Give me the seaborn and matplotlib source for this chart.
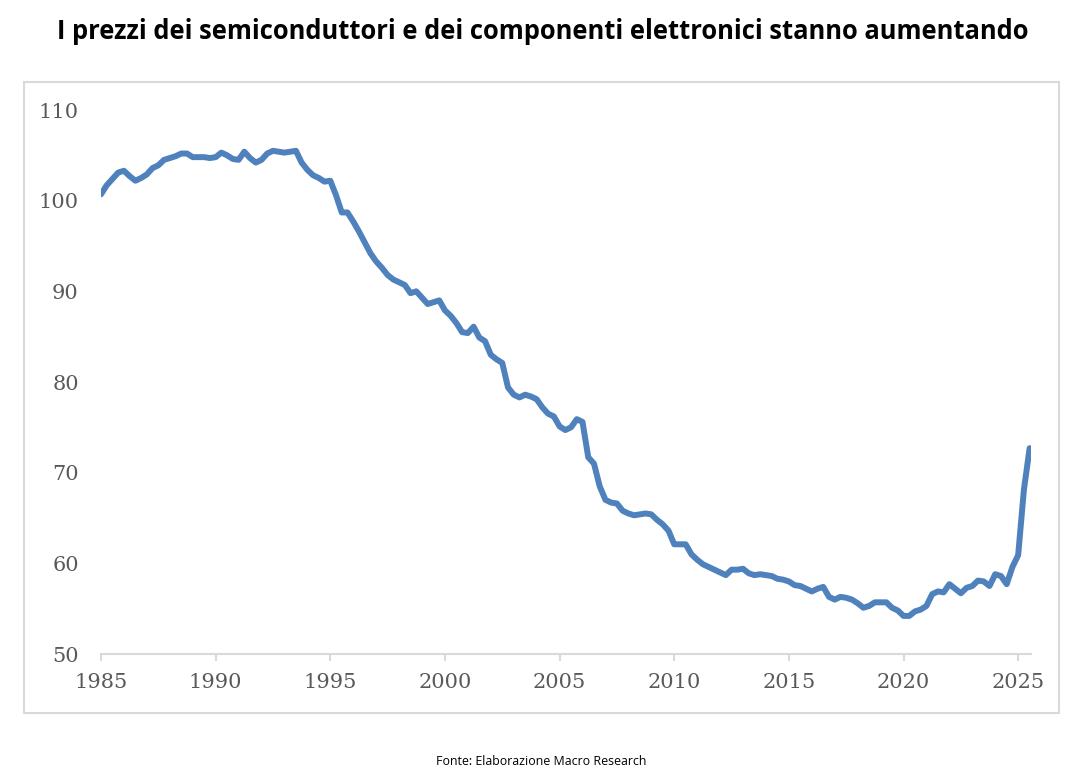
import numpy as np
import pandas as pd
import seaborn as sns
import matplotlib.pyplot as plt
from matplotlib.patches import Rectangle

# quarterly index values, 1985Q1 .. 2025Q3
valori = [
    100.7, 101.7, 102.4, 103.1, 103.3, 102.7, 102.2, 102.5, 102.9, 103.6,
    103.9, 104.5, 104.7, 104.9, 105.2, 105.2, 104.8, 104.8, 104.8, 104.7,
    104.8, 105.3, 105.0, 104.6, 104.5, 105.4, 104.7, 104.2, 104.5, 105.2,
    105.5, 105.4, 105.3, 105.4, 105.5, 104.2, 103.4, 102.8, 102.5, 102.1,
    102.2, 100.6, 98.7, 98.7, 97.7, 96.6, 95.4, 94.2, 93.3, 92.6,
    91.8, 91.3, 91.0, 90.7, 89.8, 90.0, 89.3, 88.6, 88.8, 89.0,
    87.9, 87.3, 86.5, 85.5, 85.4, 86.1, 84.9, 84.5, 83.0, 82.5,
    82.1, 79.4, 78.6, 78.3, 78.6, 78.4, 78.1, 77.2, 76.5, 76.2,
    75.1, 74.7, 75.0, 75.9, 75.6, 71.7, 71.0, 68.5, 67.0, 66.7,
    66.6, 65.8, 65.5, 65.3, 65.4, 65.5, 65.4, 64.8, 64.3, 63.6,
    62.1, 62.1, 62.1, 61.0, 60.4, 59.9, 59.6, 59.3, 59.0, 58.7,
    59.3, 59.3, 59.4, 58.9, 58.7, 58.8, 58.7, 58.6, 58.3, 58.2,
    58.0, 57.6, 57.5, 57.2, 56.9, 57.2, 57.4, 56.3, 56.0, 56.3,
    56.2, 56.0, 55.6, 55.1, 55.3, 55.7, 55.7, 55.7, 55.1, 54.8,
    54.2, 54.2, 54.7, 54.9, 55.3, 56.6, 56.9, 56.8, 57.7, 57.2,
    56.7, 57.3, 57.5, 58.1, 58.0, 57.5, 58.8, 58.6, 57.7, 59.6,
    60.9, 68.1, 72.7,
]
anni = [1985 + i / 4 for i in range(len(valori))]
tick_anni = [1985, 1990, 1995, 2000, 2005, 2010, 2015, 2020, 2025]
tick_y = [50, 60, 70, 80, 90, 100, 110]

titolo = "I prezzi dei semiconduttori e dei componenti elettronici stanno aumentando"
fonte = "Fonte: Elaborazione Macro Research"

df = pd.DataFrame({"anno": anni, "indice": valori})

sns.set_style("white")
plt.rcParams['font.family'] = ['DejaVu Serif']

fig = plt.figure(figsize=(10.86, 7.78), dpi=100)
ax = fig.add_axes([101 / 1086, 1 - 654 / 778, 930 / 1086, 544 / 778])

sns.lineplot(data=df, x="anno", y="indice", color="#4F81BD", linewidth=4.3, ax=ax)

ax.set_xlim(1985, 2025.56)
ax.set_ylim(50, 110)
ax.set_xticks(tick_anni)
ax.set_yticks(tick_y)
ax.set_xlabel("")
ax.set_ylabel("")
for s in ["top", "right", "left"]:
    ax.spines[s].set_visible(False)
ax.spines["bottom"].set_color("#D9D9D9")
ax.spines["bottom"].set_linewidth(1.5)
ax.tick_params(axis="x", direction="out", length=5, width=1.5, color="#D9D9D9",
               labelsize=15, labelcolor="#595959", pad=9, bottom=True)
ax.tick_params(axis="y", length=0, labelsize=15, labelcolor="#595959", pad=16)
ax.grid(False)

# outer chart frame
fig.patches.append(Rectangle((24 / 1086, 1 - 713 / 778), 1035 / 1086, 631 / 778,
                             transform=fig.transFigure, fill=False,
                             edgecolor="#D9D9D9", linewidth=1.5))

fig.text(543 / 1086, 1 - 39 / 778, titolo, ha="center", va="baseline", fontsize=18.4,
         fontweight="bold", family=["Open Sans", "DejaVu Sans"], color="black")
fig.text(541 / 1086, 1 - 765 / 778, fonte, ha="center", va="baseline", fontsize=8.9,
         family=["Open Sans", "DejaVu Sans"], color="black")

plt.savefig("out.png", dpi=100)
